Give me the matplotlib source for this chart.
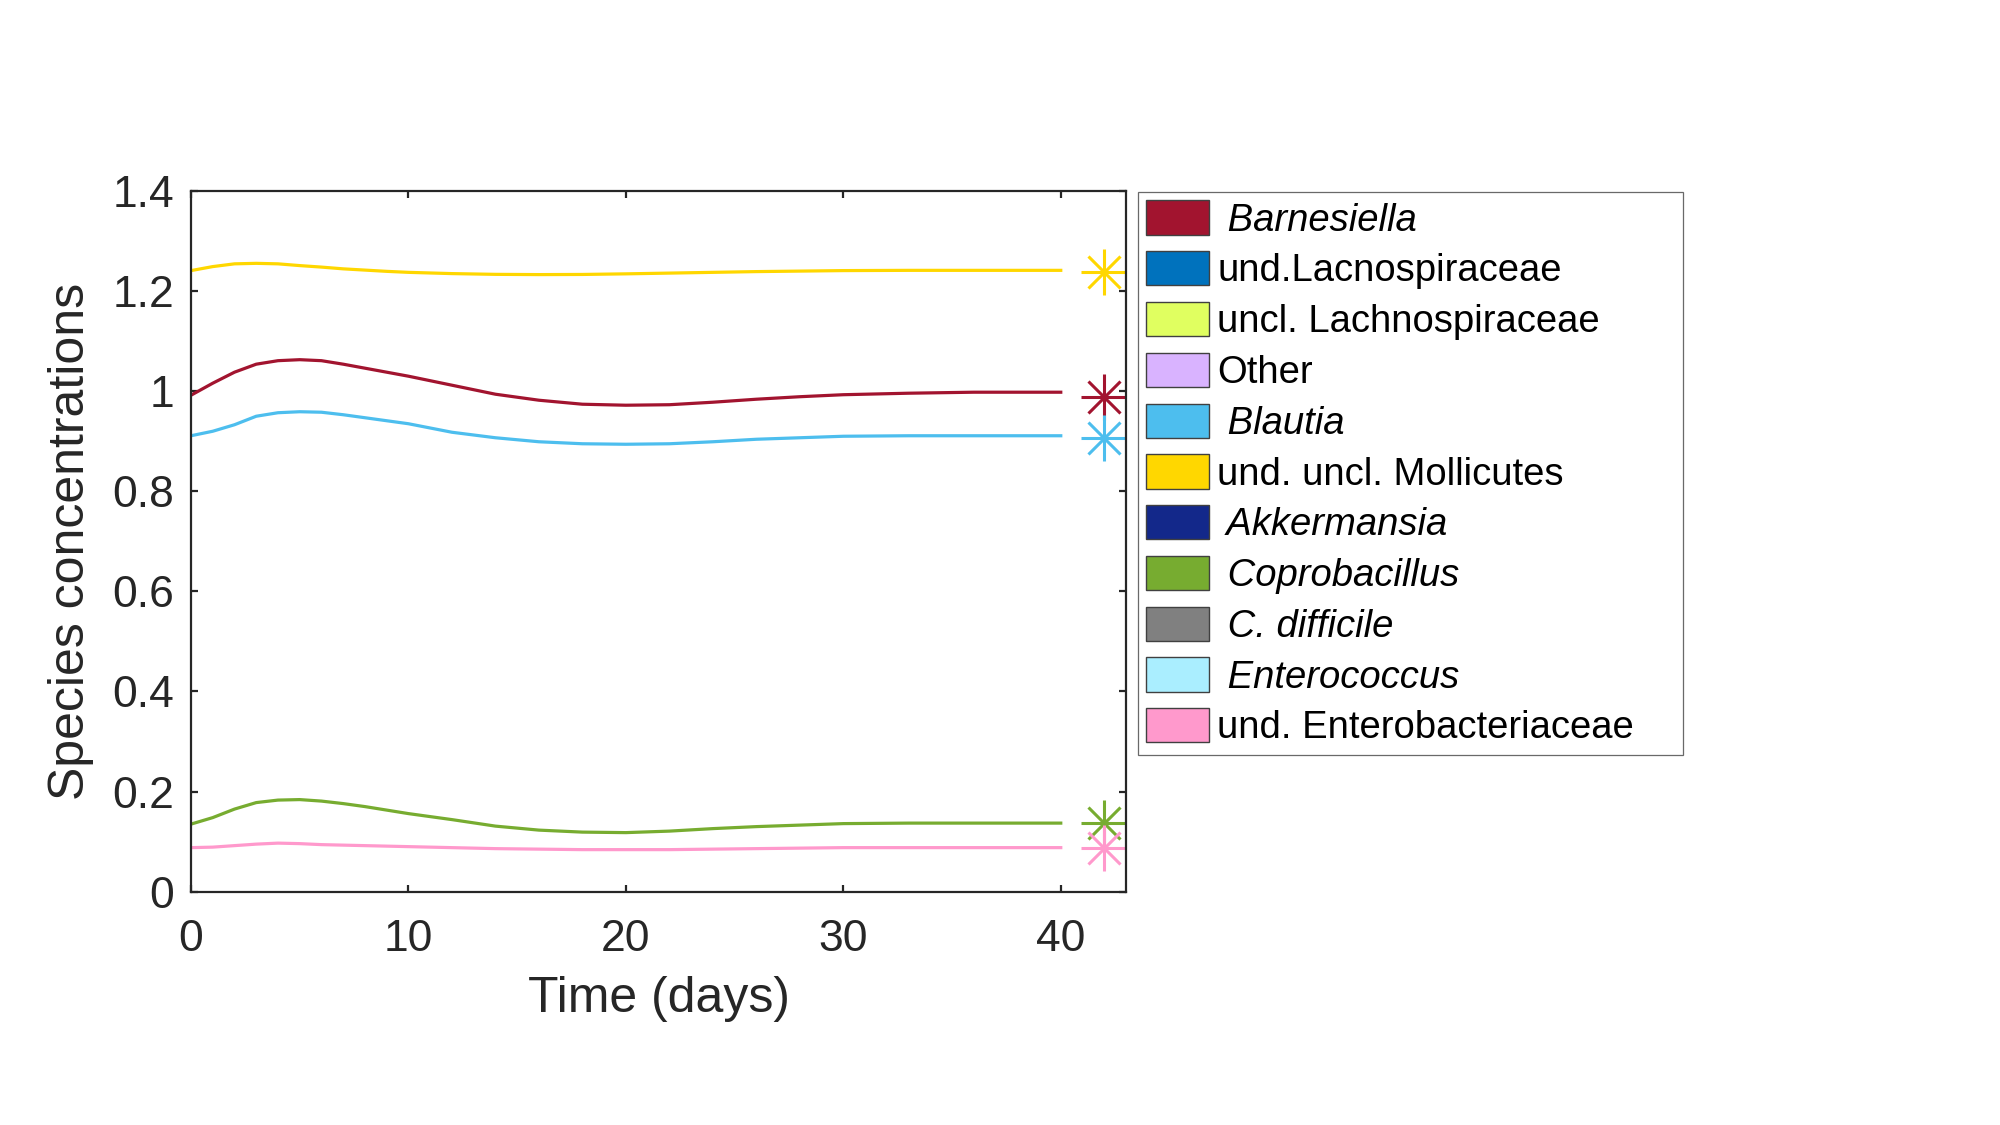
import matplotlib
matplotlib.use("Agg")
import matplotlib.pyplot as plt
from matplotlib.patches import Patch

plt.rcParams["font.family"] = ["Liberation Sans", "DejaVu Sans"]

# Simulated trajectories
days = [0, 1, 2, 3, 4, 5, 6, 7, 8, 9, 10, 12, 14, 16, 18, 20, 22, 24, 26, 28, 30, 33, 36, 40]

mollicutes = [1.241, 1.249, 1.2545, 1.2555, 1.2545, 1.251, 1.248, 1.2445, 1.242, 1.2395, 1.2375, 1.235,
              1.2335, 1.233, 1.2333, 1.2345, 1.236, 1.2375, 1.239, 1.240, 1.241, 1.2415, 1.2415, 1.2415]
barnesiella = [0.992, 1.016, 1.038, 1.054, 1.061, 1.063, 1.061, 1.054, 1.046, 1.038, 1.030, 1.012,
               0.994, 0.982, 0.974, 0.972, 0.973, 0.978, 0.984, 0.989, 0.993, 0.996, 0.998, 0.998]
blautia = [0.911, 0.920, 0.933, 0.950, 0.957, 0.959, 0.958, 0.953, 0.947, 0.941, 0.935, 0.918,
           0.907, 0.899, 0.895, 0.894, 0.895, 0.899, 0.904, 0.907, 0.910, 0.911, 0.911, 0.911]
coprobacillus = [0.135, 0.148, 0.165, 0.178, 0.183, 0.184, 0.181, 0.176, 0.170, 0.163, 0.156, 0.144,
                 0.131, 0.123, 0.119, 0.118, 0.121, 0.126, 0.130, 0.133, 0.136, 0.137, 0.137, 0.137]
enterobact = [0.088, 0.089, 0.092, 0.095, 0.097, 0.096, 0.094, 0.093, 0.092, 0.091, 0.090, 0.088,
              0.086, 0.085, 0.084, 0.084, 0.084, 0.085, 0.086, 0.087, 0.088, 0.088, 0.088, 0.088]

# measured end points, shown as asterisks
marker_day = 42
marker_vals = [1.239, 0.989, 0.907, 0.137, 0.088]

series = [mollicutes, barnesiella, blautia, coprobacillus, enterobact]
series_colors = ["#FFD700", "#A2142F", "#4DBEEE", "#77AC30", "#FF99CC"]

legend_labels = [" Barnesiella", "und.Lacnospiraceae", "uncl. Lachnospiraceae", "Other", " Blautia",
                 "und. uncl. Mollicutes", " Akkermansia", " Coprobacillus", " C. difficile",
                 " Enterococcus", "und. Enterobacteriaceae"]
legend_italic = [True, False, False, False, True, False, True, True, True, True, False]
legend_colors = ["#A2142F", "#0072BD", "#E0FF60", "#D9B3FF", "#4DBEEE", "#FFD700",
                 "#13288A", "#77AC30", "#808080", "#AAEEFF", "#FF99CC"]

x_ticks = [0, 10, 20, 30, 40]
y_ticks = [0, 0.2, 0.4, 0.6, 0.8, 1.0, 1.2, 1.4]
y_tick_labels = ["0", "0.2", "0.4", "0.6", "0.8", "1", "1.2", "1.4"]

fig = plt.figure(figsize=(20, 11.25), dpi=100)
ax = fig.add_axes([0.0955, 0.2074, 0.4675, 0.6228])

for vals, col, mv in zip(series, series_colors, marker_vals):
    ax.plot(days, vals, color=col, lw=2.3)
    ax.plot([marker_day], [mv], marker="+", ms=33, mew=2.2, color=col, ls="none")
    ax.plot([marker_day], [mv], marker="x", ms=23, mew=2.2, color=col, ls="none")

ax.set_xlim(0, 43)
ax.set_ylim(0, 1.4)
ax.set_xticks(x_ticks)
ax.set_yticks(y_ticks)
ax.set_yticklabels(y_tick_labels)

dark = "#262626"
for sp in ax.spines.values():
    sp.set_linewidth(1.6)
    sp.set_color(dark)
ax.tick_params(direction="in", top=True, right=True, length=5, width=1.6, color=dark,
               labelsize=32, labelcolor=dark)
ax.tick_params(axis="x", pad=20)
ax.tick_params(axis="y", pad=12)

ax.set_xlabel("Time (days)", fontsize=36, color=dark, labelpad=11)
ax.set_ylabel("Species concentrations", fontsize=36, color=dark, labelpad=13)

handles = [Patch(facecolor=c, edgecolor="#404040", lw=1) for c in legend_colors]
leg = fig.legend(handles, legend_labels, loc="upper left",
                 bbox_to_anchor=(0.569, 0.0, 0.2725, 0.8293), mode="expand",
                 borderaxespad=0, fontsize=27.5, frameon=True, fancybox=False,
                 borderpad=0.22, labelspacing=0.33, handlelength=1.65,
                 handleheight=1.0, handletextpad=0.2)
leg.get_frame().set_edgecolor("#444444")
leg.get_frame().set_linewidth(0.9)
for txt, it in zip(leg.get_texts(), legend_italic):
    txt.set_color("black")
    if it:
        txt.set_style("italic")

fig.savefig("out.png", dpi=100, facecolor="white")
